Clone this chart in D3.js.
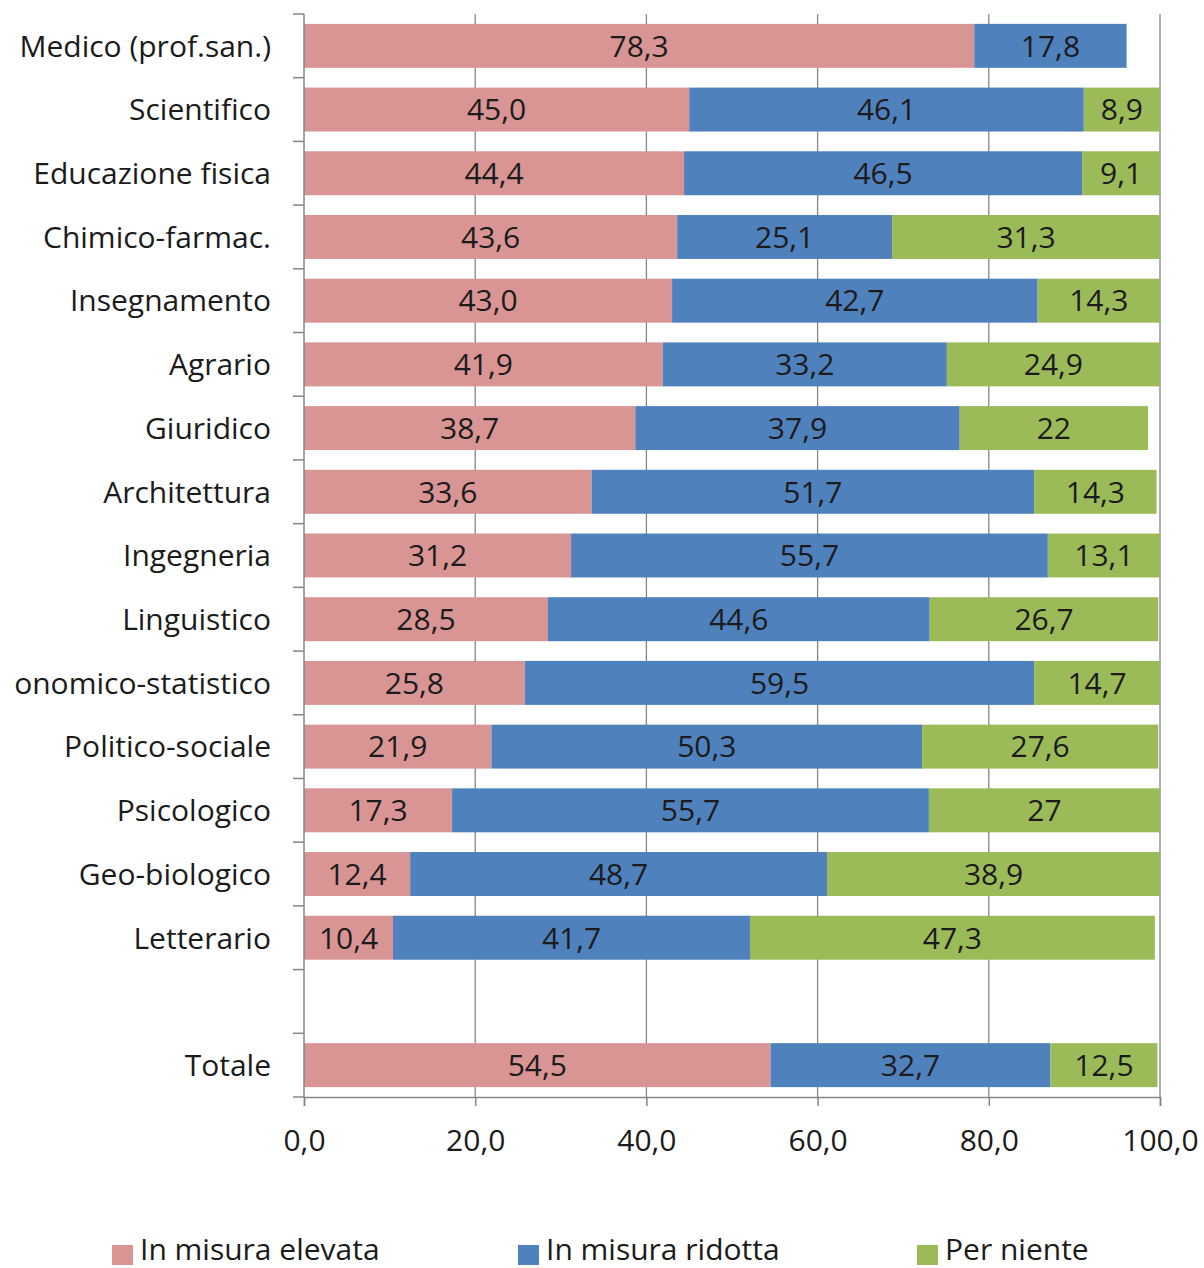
<!DOCTYPE html>
<html>
<head>
<meta charset="utf-8">
<script src="https://cdn.jsdelivr.net/npm/d3@7"></script>
<style>
  html, body { margin: 0; padding: 0; background: #fff; }
  svg { display: block; font-family: "Open Sans", "DejaVu Sans", sans-serif; }
</style>
</head>
<body>
<svg id="chart" width="1204" height="1268"></svg>
<script>
// Groups, top to bottom; the empty entry leaves a gap before the total row
const categories = [
  "Medico (prof.san.)", "Scientifico", "Educazione fisica", "Chimico-farmac.",
  "Insegnamento", "Agrario", "Giuridico", "Architettura", "Ingegneria",
  "Linguistico", "onomico-statistico", "Politico-sociale", "Psicologico",
  "Geo-biologico", "Letterario", "", "Totale"
];

// Percentages as printed on each segment (Italian decimal comma)
const elevata = ["78,3","45,0","44,4","43,6","43,0","41,9","38,7","33,6","31,2","28,5","25,8","21,9","17,3","12,4","10,4", null, "54,5"];
const ridotta = ["17,8","46,1","46,5","25,1","42,7","33,2","37,9","51,7","55,7","44,6","59,5","50,3","55,7","48,7","41,7", null, "32,7"];
const niente  = [null,  "8,9", "9,1", "31,3","14,3","24,9","22",  "14,3","13,1","26,7","14,7","27,6","27",  "38,9","47,3", null, "12,5"];

const seriesNames = ["In misura elevata", "In misura ridotta", "Per niente"];
const seriesColors = ["#D99594", "#4F81BD", "#9BBB59"];
const xTicks = [0, 20, 40, 60, 80, 100];

const toNum = s => (s == null ? 0 : +s.replace(",", "."));
const seriesLabels = [elevata, ridotta, niente];

const svg = d3.select("#chart");
const margin = { left: 304, right: 44, top: 14, bottom: 171 };
const W = 1204, H = 1268;
const plotBottom = H - margin.bottom;
const fontSize = 30;
const textColor = "#1b1b1b";

const x = d3.scaleLinear().domain([0, 100]).range([margin.left, W - margin.right]);
const y = d3.scaleBand().domain(d3.range(categories.length))
  .range([margin.top, plotBottom]).paddingInner(0.31).paddingOuter(0.155);

const axisColor = "#868686";

// vertical gridlines
svg.append("g").selectAll("line").data(xTicks.filter(t => t > 0)).join("line")
  .attr("x1", d => x(d)).attr("x2", d => x(d))
  .attr("y1", margin.top).attr("y2", plotBottom)
  .attr("stroke", axisColor).attr("stroke-width", 1.3);

// stacked segments
const rows = categories.map((c, i) => {
  let acc = 0;
  return seriesLabels.map((arr, s) => {
    const v = toNum(arr[i]);
    const seg = { row: i, s, x0: acc, x1: acc + v, label: arr[i] };
    acc += v;
    return seg;
  });
}).flat().filter(d => d.label != null);

svg.append("g").selectAll("rect").data(rows).join("rect")
  .attr("x", d => x(d.x0))
  .attr("y", d => y(d.row))
  .attr("width", d => x(d.x1) - x(d.x0))
  .attr("height", y.bandwidth())
  .attr("fill", d => seriesColors[d.s]);

svg.append("g").selectAll("text").data(rows).join("text")
  .attr("x", d => (x(d.x0) + x(d.x1)) / 2)
  .attr("y", d => y(d.row) + y.bandwidth() / 2)
  .attr("dy", "0.36em")
  .attr("text-anchor", "middle")
  .attr("font-size", fontSize)
  .attr("fill", textColor)
  .text(d => d.label);

// left axis with tick marks at row boundaries
const leftAxis = svg.append("g");
leftAxis.append("line")
  .attr("x1", margin.left).attr("x2", margin.left)
  .attr("y1", margin.top).attr("y2", plotBottom)
  .attr("stroke", axisColor).attr("stroke-width", 1.5);
const boundaries = d3.range(categories.length + 1).map(i => margin.top + i * y.step());
leftAxis.selectAll("line.tick").data(boundaries).join("line")
  .attr("class", "tick")
  .attr("x1", margin.left - 11).attr("x2", margin.left)
  .attr("y1", d => d).attr("y2", d => d)
  .attr("stroke", axisColor).attr("stroke-width", 1.5);

// category labels
svg.append("g")
  .selectAll("text").data(categories).join("text")
  .attr("x", 271)
  .attr("y", (d, i) => y(i) + y.bandwidth() / 2)
  .attr("dy", "0.36em")
  .attr("text-anchor", "end")
  .attr("font-size", fontSize)
  .attr("fill", textColor)
  .text(d => d);

// bottom axis
const bottomAxis = d3.axisBottom(x).tickValues(xTicks)
  .tickSize(9).tickPadding(24)
  .tickFormat(d => d3.format(".1f")(d).replace(".", ","));
const gx = svg.append("g").attr("transform", `translate(0,${plotBottom})`).call(bottomAxis);
gx.select(".domain").attr("stroke", axisColor).attr("stroke-width", 1.5);
gx.selectAll(".tick line").attr("stroke", axisColor).attr("stroke-width", 1.5);
gx.selectAll(".tick text")
  .attr("font-size", fontSize)
  .attr("font-family", "'Open Sans', sans-serif")
  .attr("fill", textColor);

// legend
const legendX = [112, 518, 917];
const legend = svg.append("g").selectAll("g").data(seriesNames).join("g")
  .attr("transform", (d, i) => `translate(${legendX[i]},1253)`);
legend.append("rect")
  .attr("x", 0).attr("y", -8).attr("width", 21).attr("height", 20)
  .attr("fill", (d, i) => seriesColors[i]);
legend.append("text")
  .attr("x", 28).attr("y", 7)
  .attr("font-size", fontSize).attr("fill", textColor)
  .text(d => d);
</script>
</body>
</html>
